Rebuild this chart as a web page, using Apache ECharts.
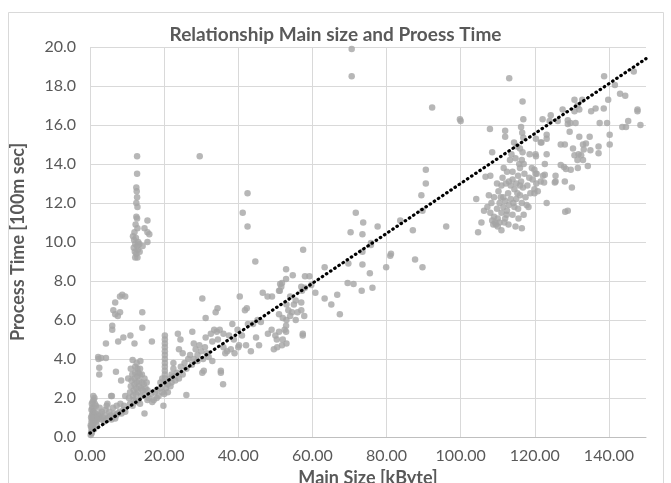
<!DOCTYPE html>
<html>
<head>
<meta charset="utf-8">
<title>Relationship Main size and Proess Time</title>
<script src="https://cdn.jsdelivr.net/npm/echarts@6/dist/echarts.min.js"></script>
<style>
    html, body { margin: 0; padding: 0; background: #fff; }
    #chart { width: 671px; height: 483px; }
</style>
</head>
<body>
<div id="chart"></div>
<script>
// 数据：[Main Size kByte, Process Time 100m sec]
const smallFiles = [
    [0.2,0.1],[0.3,0.2],[0.4,0.3],[0.5,0.2],[0.3,0.5],[0.5,0.6],[0.6,0.4],[0.8,0.5],[0.4,0.8],[0.6,0.9],
    [0.8,0.8],[1.0,0.7],[0.5,1.1],[0.7,1.2],[0.9,1.0],[1.1,1.1],[0.4,1.4],[0.6,1.5],[0.8,1.3],[1.0,1.5],
    [1.2,1.3],[0.5,1.7],[0.7,1.8],[1.0,1.9],[1.3,1.7],[1.5,1.2],[1.4,0.9],[1.6,0.8],[1.8,1.0],[2.0,0.9],
    [1.2,2.0],[1.6,1.6],[2.2,1.1],[2.5,1.0],[0.3,1.0],[0.2,0.6],[1.8,0.6],[1.1,0.4],[2.8,1.2],[0.9,2.1],
    [3.0,0.9],[3.5,1.0],[4.0,1.1],[4.5,0.9],[5.0,1.0],[5.5,1.1],[6.0,1.0],[6.5,1.2],[7.0,1.1],[7.5,1.2],
    [8.0,1.3],[8.5,1.2],[9.0,1.4],[9.5,1.3],[3.2,1.3],[4.2,1.4],[5.2,1.3],[6.2,1.5],[7.2,1.6],[8.2,1.7],
    [9.2,1.6],[3.8,0.8],[5.8,0.9],[6.8,0.95],[2.6,1.5],[4.7,1.7],[5.7,2.1],[4.5,1.6],
    [2.3,4.0],[2.2,4.1],[3.0,4.05],[4.3,4.05],[2.5,3.55],[2.5,3.2],[4.3,4.8],[7.0,3.35],[8.4,2.9],[5.9,2.1],[9.5,2.1],
    [6.8,6.9],[8.1,7.2],[8.7,7.3],[9.5,7.2],[6.3,6.5],[6.8,6.3],[7.5,6.2],[8.1,6.4],[14.1,6.4],[6.0,5.7],
    [6.0,5.5],[14.1,5.6],[9.0,5.1],[10.9,5.2],[7.6,4.9],[16.7,4.9],[12.0,4.8],
    [10.5,2.0],[10.8,2.3],[11.0,2.6],[11.2,2.9],[11.4,3.2],[11.5,3.95],[11.6,2.1],[11.8,2.4],[12.0,2.7],[12.0,3.0],
    [12.2,3.3],[12.2,3.6],[12.4,2.2],[12.5,2.5],[12.6,2.8],[12.8,3.1],[12.8,3.5],[13.0,1.9],[13.0,2.3],[13.2,2.6],
    [13.2,2.9],[13.4,3.2],[13.5,3.5],[13.6,3.9],[13.8,2.1],[13.8,2.5],[14.0,2.8],[14.0,3.2],[14.2,2.4],[14.5,2.7],
    [14.7,3.0],[14.7,2.2],[15.0,2.5],[15.3,2.8],[15.5,2.4],[10.8,1.7],[11.5,1.6],[12.3,1.8],[13.5,1.7],[14.7,1.2],
    [11.0,3.5],[10.3,3.0],[12.6,3.8],[13.0,3.3],[11.8,1.9],
    [12.7,14.4],[12.7,13.5],[12.5,12.8],[12.6,12.6],[12.7,12.3],[12.5,12.0],[12.8,11.8],[12.5,11.3],[12.7,11.2],[12.3,10.9],
    [12.8,10.7],[15.5,11.1],[14.7,10.7],[15.5,10.5],[16.0,10.4],[15.5,10.0],[14.2,9.8],[11.6,10.3],[11.9,10.1],[12.2,9.9],
    [12.4,10.2],[12.7,9.8],[13.0,10.0],[11.8,9.7],[12.1,9.5],[12.5,9.4],[12.9,9.6],[13.3,9.9],[12.2,9.2],[12.8,9.2],
    [13.4,9.5],[12.0,10.5]
]

const midFiles = [
    [20.2,5.2],[20.2,5.0],[20.2,4.8],[20.2,4.6],[20.2,4.4],[20.2,4.2],[20.2,4.0],[20.2,3.8],[20.2,3.6],[20.2,3.4],
    [20.2,3.2],[20.2,3.0],[20.2,2.8],
    [15.8,2.0],[16.5,2.2],[17.2,1.9],[17.5,2.3],[18.0,2.4],[18.5,2.1],[19.0,2.5],[19.5,2.3],[19.0,2.8],[19.5,3.0],
    [20.5,2.5],[21.0,2.7],[21.5,3.0],[22.0,2.8],[22.5,3.1],[20.0,2.2],[21.0,2.3],[18.0,2.0],[16.8,1.8],[15.5,1.9],[19.8,1.6],
    [21.7,2.6],[22.0,3.2],[22.5,3.5],[23.0,2.9],[23.5,3.3],[24.0,3.0],[24.5,3.6],[25.0,3.2],[23.7,5.3],[24.4,5.0],
    [25.5,3.8],[26.0,3.5],[26.5,4.0],[27.0,4.2],[25.0,4.3],[26.0,2.15],[27.5,3.7],[28.0,4.0],[28.5,4.5],[29.0,4.2],
    [29.5,4.7],[30.0,4.4],[30.5,4.0],[31.0,4.6],[31.5,4.3],[28.0,4.8],[27.6,5.4],[30.3,3.3],[30.7,3.4],[29.0,3.9],
    [31.2,5.1],[30.3,7.1],[31.2,6.1],[22.5,3.8],[24.0,4.5],
    [32.6,5.3],[33.5,5.5],[34.2,5.4],[35.0,5.5],[36.0,5.3],[33.0,4.9],[34.5,5.0],[36.0,4.6],[37.0,4.4],[38.0,4.5],
    [39.0,4.3],[40.0,4.6],[36.5,4.3],[34.4,6.6],[33.9,6.4],[35.9,2.7],[35.3,3.3],[35.3,3.4],[38.4,5.8],[39.8,5.5],
    [38.8,5.0],[40.2,4.7],[42.1,4.7],[43.4,4.4],[41.8,6.5],[42.3,6.6],[40.4,7.2],[42.6,5.8],[44.0,5.8],[45.2,6.0],
    [46.1,5.9],[44.8,5.1],[45.6,4.7],[44.6,9.0],[46.6,7.4],[47.9,7.2],[49.1,7.2],[48.0,5.3],[49.0,5.5],[50.0,5.2],
    [51.0,5.4],[52.0,5.0],[53.0,4.8],[50.5,4.6],[52.5,5.5],[49.6,4.5],[50.4,5.0],[51.8,4.7],[41.0,5.2],[37.5,5.2],
    [32.0,4.1],[33.0,3.9],
    [52.9,8.6],[52.9,8.1],[54.7,8.3],[58.0,8.25],[59.2,8.25],[51.3,7.85],[51.8,7.9],[51.2,7.5],[57.0,7.7],[58.0,7.65],
    [57.2,7.5],[59.7,7.8],[60.8,7.4],[51.6,7.7],[51.0,7.5],[54.0,7.2],[55.0,6.8],[54.5,6.4],[53.5,6.5],[57.0,6.9],
    [57.0,6.5],[57.8,6.2],[55.5,6.0],[51.0,6.3],[52.0,6.1],[53.0,6.0],[54.0,6.2],[52.9,5.7],[52.9,5.4],[57.4,5.3],
    [57.4,5.2],[56.0,6.4],[55.5,7.0],[53.0,6.8],[57.5,9.6],[63.3,8.7],[69.7,8.9],[73.5,8.85],[75.5,8.4],[79.9,8.7],
    [69.5,7.9],[71.1,7.85],[73.3,7.5],[76.2,7.65],[66.7,7.3],[63.3,7.1],[65.1,6.8],[67.4,6.3],[71.7,11.5],[73.7,11.0],
    [77.6,10.8],[83.7,11.1],[87.1,10.6],[70.3,10.5],[73.5,10.4],[75.8,9.95],[75.8,9.85],[73.5,9.5],[81.2,9.4],[81.0,9.3],
    [87.7,9.1],[89.7,8.7],[90.6,13.0],[89.4,12.4],[89.7,11.6],
    [70.6,19.9],[70.6,18.5],[92.3,16.9],[100.0,16.2],[90.6,13.7],[96.1,10.8],[29.6,14.4],[42.5,12.5],[41.2,11.5],[42.5,10.8]
]

const largeFiles = [
    [99.8,16.3],[113.1,18.4],[116.7,17.2],[116.9,16.3],[107.9,15.8],[112.0,15.7],[112.0,15.4],[116.3,15.9],[116.6,15.6],[116.9,15.35],
    [108.5,14.6],[114.4,15.1],[115.2,14.9],[116.0,14.8],[116.7,14.6],[118.6,14.5],[120.2,14.5],[121.6,15.1],[113.3,14.2],[106.7,13.35],
    [108.0,13.4],[111.3,13.3],[112.5,13.6],[114.0,13.6],[104.2,12.2],[106.3,11.6],[107.2,11.8],[107.6,12.4],[105.6,11.0],[104.7,10.5],
    [111.0,10.6],[112.9,10.9],[114.8,10.8],[116.5,10.7],[118.3,11.8],[120.2,13.5],[120.8,12.6],[120.4,13.0],[121.6,13.1],
    [108.0,11.5],[108.5,11.1],[109.0,11.3],[109.5,10.9],[110.0,11.2],[110.5,11.0],[108.3,12.0],[109.0,12.3],[109.8,11.7],[110.5,12.0],
    [111.0,11.5],[111.5,11.8],[112.0,11.2],[112.5,11.6],[113.0,11.9],[110.2,12.6],[111.0,12.9],[111.5,12.3],[112.0,12.1],[112.8,12.5],
    [113.5,12.2],[114.0,11.4],[114.5,11.8],[115.0,12.2],[115.5,11.7],[116.0,12.4],[116.5,12.0],[117.0,11.4],[113.5,12.9],[114.0,13.2],
    [114.5,12.7],[115.0,13.0],[115.5,13.4],[116.0,13.8],[116.3,13.1],[116.8,12.8],[117.2,13.5],[117.5,12.3],[118.0,12.9],[118.5,13.3],
    [115.8,14.0],[116.5,14.2],[117.0,14.0],[116.0,12.9],[115.3,12.5],[114.2,12.0],[113.0,13.1],[112.2,13.0],[111.8,11.0],[110.8,12.3],
    [109.3,11.0],[108.8,10.9],[117.8,11.9],[118.8,12.5],[119.2,13.8],[109.8,13.0],[111.6,13.8],[113.7,14.5],[114.8,14.3],[115.6,11.2],
    [112.4,11.4],[110.0,10.8],
    [138.7,18.5],[146.7,18.75],[141.6,18.05],[143.0,17.6],[144.4,17.5],[147.7,16.8],[147.7,16.7],[148.5,16.0],[143.6,15.9],[144.6,15.9],
    [145.2,16.2],[139.8,17.3],[138.6,16.85],[136.4,16.85],[135.2,16.7],[137.5,16.1],[139.5,16.1],[130.7,17.3],[132.8,17.3],[131.5,17.0],
    [132.0,16.8],[130.7,16.7],[127.5,16.8],[124.3,16.5],[124.0,16.2],[126.2,16.2],[122.1,16.3],[128.9,16.25],[128.9,16.05],[129.6,16.1],
    [131.0,16.1],[129.4,15.65],[120.3,15.3],[121.8,15.1],[123.2,15.5],[123.2,15.3],[132.0,15.4],[133.8,15.05],[134.8,15.4],[133.0,15.0],
    [127.0,15.0],[128.1,15.0],[130.3,14.8],[137.2,14.9],[137.2,14.55],[140.2,15.5],[140.2,15.0],[133.2,14.75],[135.0,14.7],[123.2,14.5],
    [120.3,14.4],[130.7,14.45],[131.8,14.5],[133.0,14.2],[132.5,14.45],[131.5,14.2],[134.3,13.9],[131.6,13.8],[129.7,13.7],[127.0,13.95],
    [127.9,13.85],[128.4,13.75],[122.7,14.0],[122.7,13.45],[122.2,13.4],[119.4,13.2],[119.9,13.7],[120.5,13.5],[125.6,13.4],[125.6,13.1],
    [125.4,13.05],[122.5,13.05],[128.1,13.1],[130.0,12.8],[119.9,12.7],[119.9,12.5],[123.2,12.0],[128.2,11.55],[128.9,11.6]
]

// 线性趋势线两端
const trendLine = [[0, 0.2], [150, 19.4]]

const xTickFormat = (v) => v.toFixed(2)
const yTickFormat = (v) => v.toFixed(1)

const chartDom = document.getElementById('chart')
const chartInstance = echarts.init(chartDom, null, { renderer: 'canvas' })

const textColor = '#595959'
const fontFamily = 'Lato, "Open Sans", sans-serif'

const option = {
    animation: false,
    backgroundColor: '#ffffff',
    textStyle: { fontFamily: fontFamily },
    title: {
        text: 'Relationship Main size and Proess Time',
        left: 'center',
        top: 20,
        textStyle: { color: textColor, fontSize: 19, fontWeight: 'bold', fontFamily: fontFamily }
    },
    graphic: [
        {
            type: 'rect',
            shape: { x: 8.5, y: 12.5, width: 655, height: 480 },
            style: { fill: 'none', stroke: '#d9d9d9', lineWidth: 1 },
            silent: true
        }
    ],
    // 关闭 v6 的外边界自动收缩，固定绘图区
    grid: { left: 90, right: 25, top: 47, bottom: 46, outerBoundsMode: 'none', containLabel: false },
    xAxis: {
        type: 'value',
        min: 0,
        max: 150,
        interval: 20,
        name: 'Main Size [kByte]',
        nameLocation: 'middle',
        nameGap: 28,
        nameTextStyle: { color: textColor, fontSize: 18, fontWeight: 'bold' },
        axisLine: { show: true, lineStyle: { color: '#bfbfbf' } },
        axisTick: { show: false },
        axisLabel: { color: textColor, fontSize: 16, margin: 11, formatter: xTickFormat, showMaxLabel: false },
        splitLine: { show: true, showMaxLine: false, lineStyle: { color: '#d9d9d9' } }
    },
    yAxis: {
        type: 'value',
        min: 0,
        max: 20,
        interval: 2,
        name: 'Process Time [100m sec]',
        nameLocation: 'middle',
        nameGap: 63,
        nameTextStyle: { color: textColor, fontSize: 18, fontWeight: 'bold' },
        axisLine: { show: false },
        axisTick: { show: false },
        axisLabel: { color: textColor, fontSize: 16, margin: 14, formatter: yTickFormat },
        splitLine: { show: true, lineStyle: { color: '#d9d9d9' } }
    },
    series: [
        {
            name: 'small',
            type: 'scatter',
            data: smallFiles,
            symbolSize: 6.5,
            itemStyle: { color: '#a5a5a5' }
        },
        {
            name: 'mid',
            type: 'scatter',
            data: midFiles,
            symbolSize: 6.5,
            itemStyle: { color: '#a5a5a5' }
        },
        {
            name: 'large',
            type: 'scatter',
            data: largeFiles,
            symbolSize: 6.5,
            itemStyle: { color: '#a5a5a5' }
        },
        {
            name: 'trend',
            type: 'line',
            data: trendLine,
            symbol: 'none',
            silent: true,
            z: 5,
            lineStyle: { color: '#000000', width: 3.2, type: [0.5, 4.5], cap: 'round' }
        }
    ]
}

chartInstance.setOption(option)
</script>
</body>
</html>
